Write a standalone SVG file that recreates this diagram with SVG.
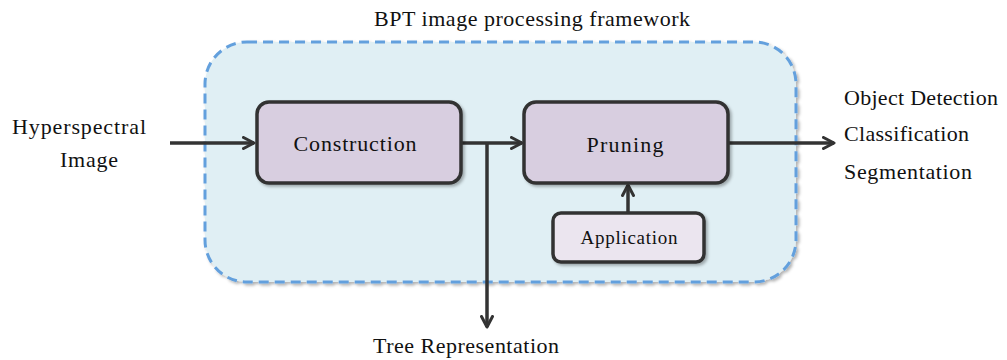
<svg xmlns="http://www.w3.org/2000/svg" width="1007" height="360" viewBox="0 0 1007 360">
<defs>
<style>
text{font-family:"Liberation Serif","DejaVu Serif",serif;fill:#111;}
.lbl{font-size:22px;}
.box{fill:#d8cee0;stroke:#333;stroke-width:3.5;}
.app{fill:#ebe5ef;stroke:#333;stroke-width:3.5;}
.conn{stroke:#333;stroke-width:3.5;fill:none;}
</style>
<marker id="ah" viewBox="0 0 14 14" refX="12" refY="7" markerWidth="14" markerHeight="14" markerUnits="userSpaceOnUse" orient="auto">
<path d="M1.5,1.5 L12,7 L1.5,12.5" fill="none" stroke="#333" stroke-width="3" stroke-linecap="round" stroke-linejoin="round"/>
</marker>
<filter id="sh" x="-10%" y="-10%" width="130%" height="130%">
<feDropShadow dx="2" dy="2" stdDeviation="1.5" flood-color="#000" flood-opacity="0.3"/>
</filter>
</defs>
<g id="framework">
<rect x="205" y="42" width="591" height="240" rx="42" fill="#e0eff4" stroke="#64a0dd" stroke-width="3" stroke-dasharray="10,6" filter="url(#sh)"/>
<text class="lbl" x="532" y="26" text-anchor="middle" textLength="316" lengthAdjust="spacing">BPT image processing framework</text>
</g>
<g id="connectors">
<line class="conn" x1="170" y1="143" x2="254" y2="143" marker-end="url(#ah)"/>
<line class="conn" x1="461" y1="143" x2="522" y2="143" marker-end="url(#ah)"/>
<line class="conn" x1="487" y1="143" x2="487" y2="327" marker-end="url(#ah)"/>
<line class="conn" x1="728" y1="143" x2="834" y2="143" marker-end="url(#ah)"/>
<line class="conn" x1="628" y1="213" x2="628" y2="185" marker-end="url(#ah)"/>
</g>
<g id="construction">
<rect class="box" x="257" y="102" width="204" height="81" rx="12" filter="url(#sh)"/>
<text class="lbl" x="355" y="151" text-anchor="middle" textLength="123" lengthAdjust="spacing">Construction</text>
</g>
<g id="pruning">
<rect class="box" x="524" y="102" width="204" height="81" rx="12" filter="url(#sh)"/>
<text class="lbl" x="625" y="152" text-anchor="middle" textLength="77" lengthAdjust="spacing">Pruning</text>
</g>
<g id="application">
<rect class="app" x="553" y="213" width="151" height="49" rx="8" filter="url(#sh)"/>
<text x="629" y="244" text-anchor="middle" font-size="19" textLength="97" lengthAdjust="spacing">Application</text>
</g>
<g id="input">
<text class="lbl" x="79" y="134" text-anchor="middle" textLength="134" lengthAdjust="spacing">Hyperspectral</text>
<text class="lbl" x="89" y="167" text-anchor="middle" textLength="58" lengthAdjust="spacing">Image</text>
</g>
<g id="outputs">
<text class="lbl" x="844" y="105" textLength="154" lengthAdjust="spacing">Object Detection</text>
<text class="lbl" x="844" y="141" textLength="125" lengthAdjust="spacing">Classification</text>
<text class="lbl" x="844" y="179" textLength="128" lengthAdjust="spacing">Segmentation</text>
</g>
<g id="tree">
<text class="lbl" x="466" y="353" text-anchor="middle" textLength="186" lengthAdjust="spacing">Tree Representation</text>
</g>
</svg>
